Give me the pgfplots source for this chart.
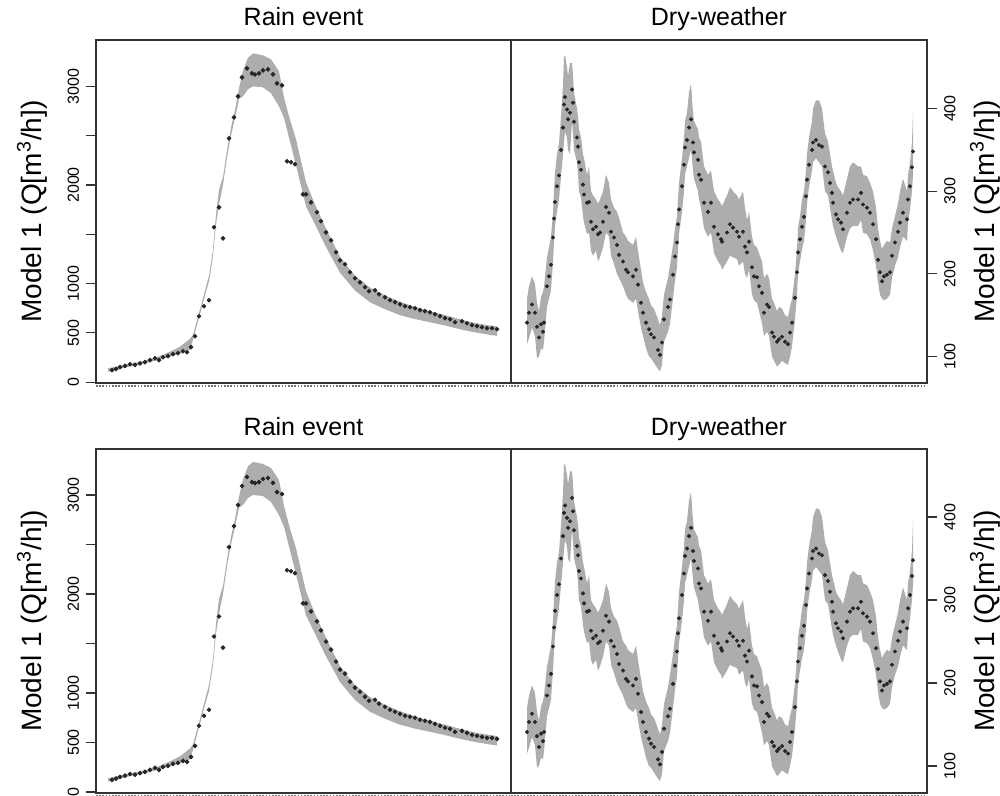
\documentclass[border=0pt]{standalone}
\usepackage{fontspec}
\setmainfont{Liberation Sans}
\usepackage{pgfplots}
\pgfplotsset{compat=1.18}
\usepgfplotslibrary{fillbetween}
\usepackage{pgfplotstable}

\pgfplotstableread{
x v
112 122
116 135
120 152
125 165
130 182
135 175
140 190
145 203
150 223
155 243
159 223
163 253
168 264
173 284
178 294
183 314
187 304
191 355
195 466
199 669
204 770
209 831
214 1571
219 1773
223 1459
229 2473
234 2686
238 2899
242 3091
247 3182
252 3131
255 3120
259 3131
263 3162
268 3172
273 3122
277 3030
282 3010
287 2240
291 2230
295 2210
303 1905
306 1905
311 1824
317 1723
321 1632
326 1520
331 1439
336 1318
340 1236
345 1196
350 1115
355 1054
360 1013
365 963
369 922
375 932
379 892
385 861
390 831
395 811
400 790
405 770
410 760
415 750
420 730
425 720
430 709
435 689
440 669
445 649
450 638
455 608
462 618
467 598
472 578
477 568
482 557
487 547
492 547
497 537
}\rainpts

\pgfplotstableread{
x up lo
108 140 105
115 155 120
120 165 135
130 190 160
140 205 180
150 235 205
160 265 230
170 310 260
180 360 290
190 440 330
193 480 430
200 740 690
205 930 880
209 1080 1020
213 1340 1280
216 1700 1600
219 1950 1800
223 2080 2000
227 2350 2280
231 2580 2500
235 2760 2680
239 2980 2870
243 3160 2900
248 3290 2970
253 3334 3000
263 3314 2990
271 3274 2930
279 3152 2797
284 2888 2680
289 2696 2480
296 2463 2200
306 2027 1784
315 1800 1600
325 1580 1390
340 1270 1110
355 1080 930
370 960 810
385 880 740
400 815 680
415 765 640
430 720 608
445 680 575
460 638 537
475 600 505
490 575 480
497 565 470
}\rainband

\pgfplotstableread{
x v up lo
527 141 170 115
529 153 185 122
532 163 197 135
535 153 188 125
537 136 165 98
539 123 155 100
541 139 172 110
543 130 178 108
544 141 185 118
547 185 220 160
549 197 232 170
551 211 245 180
553 244 275 215
554 267 300 238
555 287 322 258
557 306 345 275
559 319 358 290
561 350 390 318
563 377 430 345
564 405 462 360
565 414 465 372
567 399 450 365
568 387 440 350
570 395 455 345
572 423 455 385
573 407 440 370
574 384 420 350
577 365 400 335
578 354 390 320
579 335 375 300
581 326 365 292
583 308 345 270
584 296 340 262
587 286 320 248
589 287 330 250
591 263 300 228
593 254 295 222
596 257 290 228
598 248 285 215
600 250 290 220
603 263 300 232
606 281 320 250
609 274 310 245
611 251 290 222
614 244 280 212
617 235 275 200
619 223 268 195
623 215 250 185
626 205 245 175
628 202 240 170
633 197 235 165
636 205 245 170
638 187 228 155
641 165 205 135
643 153 190 125
646 141 178 110
649 133 170 100
651 127 162 98
654 123 158 92
658 108 145 85
660 102 138 82
662 117 150 90
664 145 175 118
668 160 195 130
670 169 210 140
673 199 235 170
675 221 255 192
677 238 270 208
678 260 290 230
679 278 310 248
682 306 340 275
684 332 365 300
685 353 385 320
687 362 395 330
689 377 420 340
691 387 430 350
693 359 395 325
694 347 385 315
698 338 375 300
699 320 365 290
701 314 360 280
704 286 330 255
708 275 320 245
711 286 325 250
714 257 300 225
718 248 290 215
721 242 285 210
722 239 282 205
727 250 295 215
730 260 305 222
733 256 300 220
737 251 295 218
739 245 290 210
743 251 300 215
745 233 280 200
747 226 265 195
749 239 275 205
752 208 245 175
754 197 235 168
757 196 232 165
759 185 225 155
762 177 215 140
764 153 195 125
767 163 200 130
769 160 195 125
772 129 170 100
774 124 165 95
777 118 155 88
779 121 160 90
782 124 158 95
785 118 150 92
788 115 148 90
790 129 160 100
792 141 170 112
795 171 200 145
797 202 230 175
798 226 255 200
800 242 270 215
802 257 290 230
804 269 300 240
806 294 325 265
807 314 345 285
809 332 365 305
812 350 385 325
813 359 400 335
816 362 410 340
819 356 410 335
822 354 400 330
825 330 370 300
828 323 360 295
830 310 345 280
832 298 330 265
833 286 325 258
836 272 310 245
838 266 305 238
841 262 300 228
843 254 295 225
847 274 315 245
850 286 330 255
853 290 335 258
858 290 330 258
861 298 330 265
863 284 320 250
867 280 318 248
870 274 310 242
873 260 300 228
876 242 280 210
878 217 255 190
880 202 240 175
882 191 230 170
884 197 235 168
887 199 240 170
890 202 238 175
892 222 255 195
895 238 270 210
898 251 285 220
900 262 300 232
903 274 315 245
907 266 300 240
908 290 320 262
910 306 335 278
912 329 360 300
913 348 395 320
}\drypts

\definecolor{band}{gray}{0.68}

\pgfplotsset{
  panel/.style={
    scale only axis,
    axis line style={black!80, line width=0.7pt},
    tick align=outside,
    major tick length=5pt,
    tick style={black!80, line width=0.6pt},
    xtick=\empty,
    every axis title shift=0pt,
    every axis title/.style={at={(axis description cs:0.5,1)}, anchor=base, yshift=7pt, font=\fontsize{12.5}{14}\selectfont},
    yticklabel style={rotate=90, font=\fontsize{8}{9}\selectfont},
    extra description/.code={
      \draw[black!55, line width=1pt, dash pattern=on 0.8pt off 0.8pt]
        ([yshift=-1.4pt]axis description cs:0,0) -- ([yshift=-1.4pt]axis description cs:1,0);
    },
  },
  rain/.style={
    panel,
    xmin=96, xmax=511, ymin=-8, ymax=3470,
    ytick={0,500,1000,1500,2000,2500,3000},
    yticklabels={0,500,1000,,2000,,3000},
    ytick pos=left,
    yticklabel style={anchor=south},
    title={Rain event},
    ylabel={Model 1 (Q[m\textsuperscript{3}/h])},
    every axis y label/.style={at={([xshift=-32pt]axis description cs:0,0.5)}, rotate=90, anchor=center, inner sep=0pt, font=\fontsize{14}{16}\selectfont},
  },
  dry/.style={
    panel,
    xmin=511, xmax=927, ymin=68, ymax=483,
    ytick={100,200,300,400},
    yticklabels={100,200,300,400},
    ytick pos=right,
    yticklabel pos=right,
    yticklabel style={anchor=north},
    title={Dry-weather},
    ylabel={Model 1 (Q[m\textsuperscript{3}/h])},
    every axis y label/.style={at={([xshift=29pt]axis description cs:1,0.5)}, rotate=90, anchor=center, inner sep=0pt, font=\fontsize{14}{16}\selectfont},
  },
}

\begin{document}
\begin{tikzpicture}

% top left
\begin{axis}[rain, at={(48pt,206.5pt)}, anchor=south west, width=207.5pt, height=171.5pt]
\addplot[draw=none, name path=upA] table[x=x,y=up]{\rainband};
\addplot[draw=none, name path=loA] table[x=x,y=lo]{\rainband};
\addplot[band, draw=none] fill between[of=upA and loA];
\addplot[only marks, mark=*, mark size=0.95pt, black!85] table[x=x,y=v]{\rainpts};
\end{axis}

% top right
\begin{axis}[dry, at={(255.5pt,206.5pt)}, anchor=south west, width=208pt, height=171.5pt]
\addplot[draw=none, name path=upB] table[x=x,y=up]{\drypts};
\addplot[draw=none, name path=loB] table[x=x,y=lo]{\drypts};
\addplot[band, draw=none] fill between[of=upB and loB];
\addplot[only marks, mark=*, mark size=0.8pt, black!85] table[x=x,y=v]{\drypts};
\end{axis}

% bottom left
\begin{axis}[rain, at={(48pt,1.5pt)}, anchor=south west, width=207.5pt, height=172pt, ymin=-10, ymax=3465,
  every axis title/.append style={yshift=-0.5pt}]
\addplot[draw=none, name path=upC] table[x=x,y=up]{\rainband};
\addplot[draw=none, name path=loC] table[x=x,y=lo]{\rainband};
\addplot[band, draw=none] fill between[of=upC and loC];
\addplot[only marks, mark=*, mark size=0.95pt, black!85] table[x=x,y=v]{\rainpts};
\end{axis}

% bottom right
\begin{axis}[dry, at={(255.5pt,1.5pt)}, anchor=south west, width=208pt, height=172pt, ymin=67.5, ymax=482,
  every axis title/.append style={yshift=-0.5pt}]
\addplot[draw=none, name path=upD] table[x=x,y=up]{\drypts};
\addplot[draw=none, name path=loD] table[x=x,y=lo]{\drypts};
\addplot[band, draw=none] fill between[of=upD and loD];
\addplot[only marks, mark=*, mark size=0.8pt, black!85] table[x=x,y=v]{\drypts};
\end{axis}

\pgfresetboundingbox
\useasboundingbox (0,0) rectangle (500pt,398pt);
\end{tikzpicture}
\end{document}
